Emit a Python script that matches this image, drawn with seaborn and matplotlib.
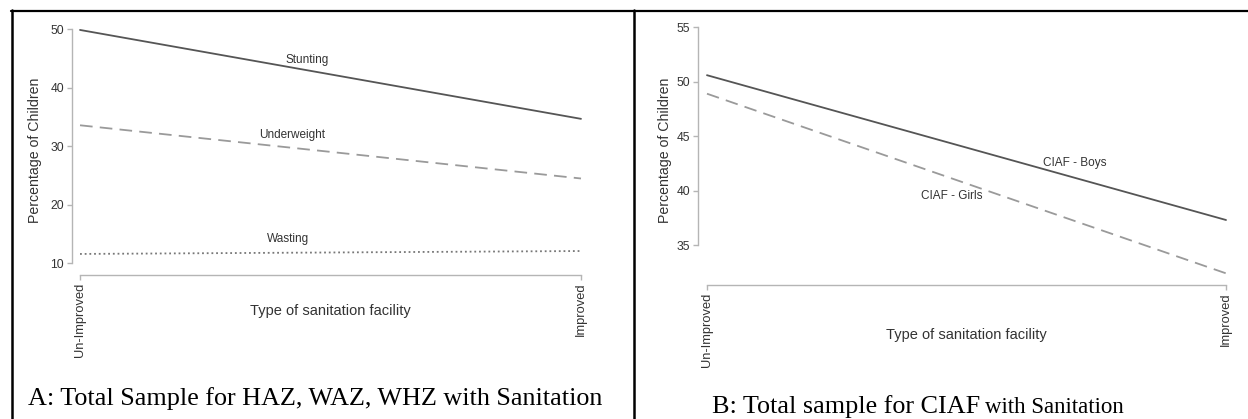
import numpy as np
import pandas as pd
import matplotlib
matplotlib.use("Agg")
import matplotlib.pyplot as plt
import seaborn as sns
from matplotlib.lines import Line2D

# ---------------- data ----------------
categories = ["Un-Improved", "Improved"]
stunting = [49.9, 34.7]
underweight = [33.6, 24.5]
wasting = [11.6, 12.1]
ciaf_boys = [50.6, 37.3]
ciaf_girls = [48.9, 32.4]
yticks_a = [10, 20, 30, 40, 50]
yticks_b = [35, 40, 45, 50, 55]

sns.set_theme(style="ticks")
plt.rcParams['font.family'] = ['Liberation Sans', 'DejaVu Sans']

W, H = 1248, 419
fig = plt.figure(figsize=(W / 100, H / 100), dpi=100)


def box(l, t, r, b):
    return [l / W, 1 - b / H, (r - l) / W, (b - t) / H]


axA = fig.add_axes(box(72, 20, 590, 275))
axB = fig.add_axes(box(698, 20, 1235, 285))

pos = np.arange(len(categories))

dfA = pd.DataFrame({"pos": np.tile(pos, 3),
                    "value": stunting + underweight + wasting,
                    "series": ["Stunting"] * 2 + ["Underweight"] * 2 + ["Wasting"] * 2})
dfB = pd.DataFrame({"pos": np.tile(pos, 2),
                    "value": ciaf_boys + ciaf_girls,
                    "series": ["CIAF - Boys"] * 2 + ["CIAF - Girls"] * 2})

styles = {
    "Stunting": dict(color="#555555", linestyle="-"),
    "Underweight": dict(color="#9a9a9a", linestyle=(0, (7, 4))),
    "Wasting": dict(color="#777777", linestyle=(0, (1, 1.6))),
    "CIAF - Boys": dict(color="#555555", linestyle="-"),
    "CIAF - Girls": dict(color="#9a9a9a", linestyle=(0, (7, 4))),
}

for df, ax in ((dfA, axA), (dfB, axB)):
    for name, sub in df.groupby("series", sort=False):
        sns.lineplot(data=sub, x="pos", y="value", ax=ax, linewidth=1.3,
                     estimator=None, **styles[name])

spine_col = "#b5b5b5"
txt_col = "#333333"

for ax, yt, ylim, xlim in ((axA, yticks_a, (8.0, 51.6), (-0.016, 1.018)),
                           (axB, yticks_b, (31.33, 55.67), (-0.0173, 1.0173))):
    ax.set_xlim(*xlim)
    ax.set_ylim(*ylim)
    sns.despine(ax=ax)
    ax.set_yticks(yt)
    ax.set_xticks(pos)
    ax.set_xticklabels(categories, rotation=90)
    ax.spines['left'].set_bounds(yt[0], yt[-1])
    ax.spines['bottom'].set_bounds(pos[0], pos[-1])
    for s in ('left', 'bottom'):
        ax.spines[s].set_color(spine_col)
        ax.spines[s].set_linewidth(1.0)
    ax.tick_params(axis='both', length=3.6, width=1.0, color=spine_col,
                   labelcolor=txt_col, pad=2)
    ax.tick_params(axis='y', labelsize=8.7)
    ax.tick_params(axis='x', labelsize=9.3)
    ax.set_ylabel("Percentage of Children", fontsize=10.2, color=txt_col)
    ax.set_xlabel("Type of sanitation facility", fontsize=10.5, color=txt_col)
    ax.xaxis.label.set_va('center')
    ax.yaxis.label.set_va('center')

axA.yaxis.set_label_coords(-0.0714, 0.49)
axA.xaxis.set_label_coords(0.498, -0.141)
axB.yaxis.set_label_coords(-0.0615, 0.509)
axB.xaxis.set_label_coords(0.499, -0.189)

lab_kw = dict(ha='center', va='center', fontsize=8.5, color=txt_col)
axA.text(0.453, 44.75, "Stunting", **lab_kw)
axA.text(0.423, 31.9, "Underweight", **lab_kw)
axA.text(0.415, 14.2, "Wasting", **lab_kw)
axB.text(0.709, 42.55, "CIAF - Boys", **lab_kw)
axB.text(0.472, 39.5, "CIAF - Girls", **lab_kw)

# ---------------- captions ----------------
serif = ['Liberation Serif', 'DejaVu Serif']
fig.text(28 / W, 1 - 405 / H, "A: Total Sample for HAZ, WAZ, WHZ with Sanitation",
         family=serif, fontsize=18.8, va='baseline', ha='left', color='black')
tB = fig.text(712 / W, 1 - 413 / H, "B: Total sample for CIAF",
              family=serif, fontsize=18.8, va='baseline', ha='left', color='black')
fig.canvas.draw()
bb = tB.get_window_extent()
fig.text((bb.x1 + 5) / W, 1 - 413 / H, "with Sanitation",
         family=serif, fontsize=16.5, va='baseline', ha='left', color='black')

# ---------------- table borders ----------------
def hline(y, x0, x1, lw):
    fig.add_artist(Line2D([x0 / W, x1 / W], [1 - y / H, 1 - y / H], color='black', lw=lw))


def vline(x, y0, y1, lw):
    fig.add_artist(Line2D([x / W, x / W], [1 - y0 / H, 1 - y1 / H], color='black', lw=lw))


hline(11, 11, W, 1.6)
vline(12, 10, H, 1.8)
vline(634, 10, H, 1.8)

fig.savefig("out.png", dpi=100)
